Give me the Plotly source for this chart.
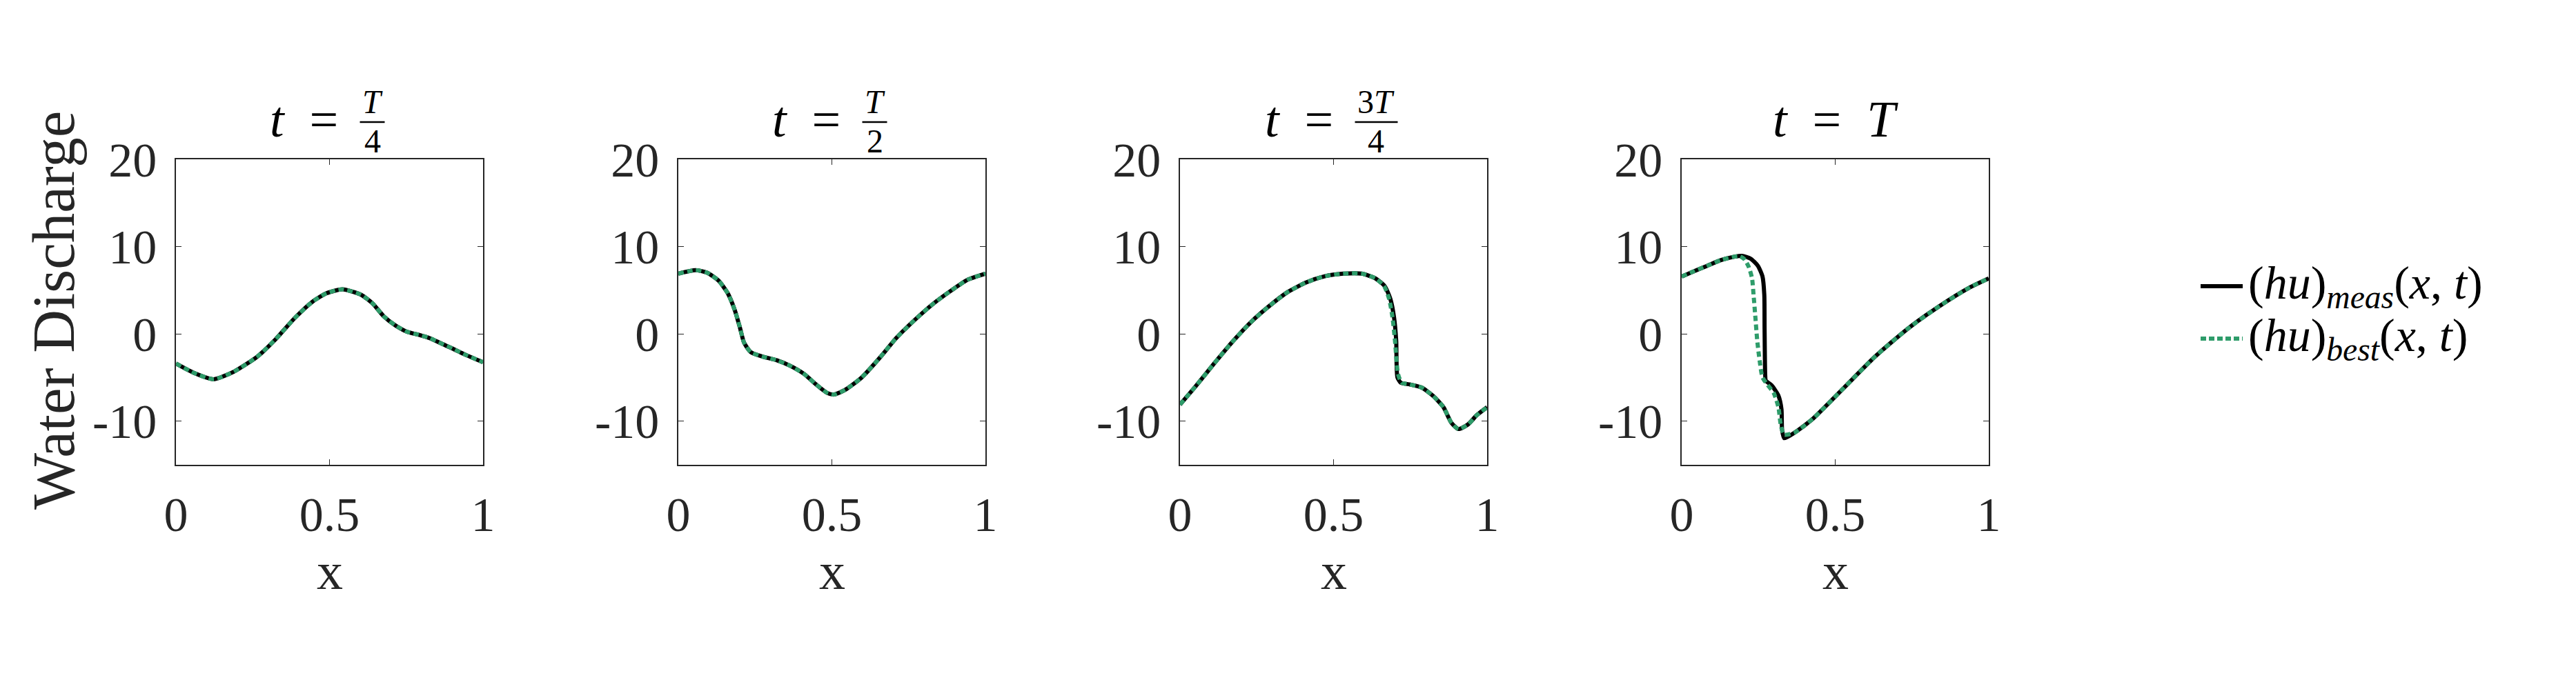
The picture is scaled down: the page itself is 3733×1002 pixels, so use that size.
import plotly.graph_objects as go

# values: water discharge (hu) at four times
x_q1 = [0, 0.06, 0.123, 0.19, 0.265, 0.325, 0.385, 0.445, 0.49, 0.542, 0.602, 0.64,
        0.677, 0.715, 0.752, 0.79, 0.827, 0.864, 0.902, 0.94, 1.0]
meas_q1 = [-3.4, -4.5, -5.2, -4.3, -2.6, -0.6, 1.75, 3.7, 4.65, 5.1, 4.5, 3.5,
           2.0, 0.96, 0.25, -0.1, -0.5, -1.1, -1.7, -2.35, -3.25]
best_q1 = [-3.4, -4.5, -5.2, -4.3, -2.6, -0.6, 1.75, 3.7, 4.65, 5.1, 4.5, 3.5,
           2.0, 0.96, 0.25, -0.1, -0.5, -1.1, -1.7, -2.35, -3.25]

x_q2 = [0, 0.056, 0.094, 0.131, 0.161, 0.184, 0.2, 0.214, 0.236, 0.274, 0.319, 0.364,
        0.41, 0.447, 0.484, 0.507, 0.544, 0.597, 0.657, 0.709, 0.77, 0.83, 0.89, 0.942, 1.0]
meas_q2 = [6.9, 7.3, 7.0, 6.1, 4.65, 2.7, 0.8, -1.0, -2.1, -2.6, -3.0, -3.65,
           -4.6, -5.75, -6.75, -6.95, -6.4, -5.0, -2.7, -0.5, 1.6, 3.45, 5.0, 6.2, 6.9]
best_q2 = [6.9, 7.3, 7.0, 6.1, 4.65, 2.7, 0.8, -1.0, -2.1, -2.6, -3.0, -3.65,
           -4.6, -5.75, -6.75, -6.95, -6.4, -5.0, -2.7, -0.5, 1.6, 3.45, 5.0, 6.2, 6.9]

x_q3 = [0, 0.051, 0.111, 0.171, 0.231, 0.291, 0.351, 0.411, 0.471, 0.532, 0.592, 0.637,
        0.667, 0.685, 0.697, 0.704, 0.708, 0.719, 0.749, 0.787, 0.824, 0.858, 0.884,
        0.907, 0.937, 0.967, 1.0]
meas_q3 = [-8.1, -6.0, -3.4, -0.9, 1.35, 3.2, 4.8, 5.9, 6.6, 6.9, 6.9, 6.35,
           5.45, 4.0, 1.9, -0.75, -4.97, -5.6, -5.8, -6.15, -7.1, -8.4, -10.2,
           -10.9, -10.4, -9.3, -8.4]
xb_q3 = [0, 0.051, 0.111, 0.171, 0.231, 0.291, 0.351, 0.411, 0.471, 0.532, 0.592, 0.637,
         0.665, 0.681, 0.692, 0.700, 0.710, 0.722, 0.749, 0.787, 0.824, 0.858, 0.884,
         0.907, 0.937, 0.967, 1.0]
best_q3 = [-8.1, -6.0, -3.4, -0.9, 1.35, 3.2, 4.8, 5.9, 6.6, 6.9, 6.9, 6.35,
           5.45, 4.0, 1.9, -0.75, -4.6, -5.6, -5.8, -6.15, -7.1, -8.4, -10.2,
           -10.9, -10.4, -9.3, -8.4]

x_q4 = [0, 0.038, 0.083, 0.128, 0.173, 0.196, 0.225, 0.248, 0.263, 0.269, 0.27, 0.272,
        0.274, 0.293, 0.315, 0.325, 0.327, 0.334, 0.368, 0.428, 0.525, 0.63, 0.735,
        0.84, 0.937, 1.0]
meas_q4 = [6.57, 7.15, 7.8, 8.45, 8.85, 8.94, 8.6, 7.8, 6.6, 4.5, 0.56, -4.7,
           -5.36, -5.9, -7.07, -8.65, -11.0, -11.95, -11.3, -9.7, -6.3, -2.6, 0.56,
           3.2, 5.3, 6.36]
xb_q4 = [0, 0.038, 0.083, 0.128, 0.173, 0.188, 0.203, 0.218, 0.229, 0.234, 0.24, 0.246,
         0.254, 0.263, 0.278, 0.3, 0.315, 0.323, 0.334, 0.368, 0.428, 0.525, 0.63,
         0.735, 0.84, 0.937, 1.0]
best_q4 = [6.57, 7.15, 7.8, 8.45, 8.85, 8.9, 8.6, 7.7, 6.4, 4.5, 1.9, -0.75,
           -3.1, -4.97, -5.76, -6.8, -8.4, -10.5, -11.55, -11.3, -9.7, -6.3, -2.6,
           0.56, 3.2, 5.3, 6.36]

panels = [
    (x_q1, meas_q1, x_q1, best_q1),
    (x_q2, meas_q2, x_q2, best_q2),
    (x_q3, meas_q3, xb_q3, best_q3),
    (x_q4, meas_q4, xb_q4, best_q4),
]

y_ticks = [-10, 0, 10, 20]
y_ticktext = ['-10', '0', '10', '20']
x_ticks = [0, 0.5, 1]
x_ticktext = ['0', '0.5', '1']
frac_num = ['<i>T</i>', '<i>T</i>', '3<i>T</i>', None]
frac_den = ['4', '2', '4', None]
legend_names = ['(<i>hu</i>)<sub><i>meas</i></sub>(<i>x</i>, <i>t</i>)',
                '(<i>hu</i>)<sub><i>best</i></sub>(<i>x</i>, <i>t</i>)']

W, H = 3733, 1002
FONT = 'Liberation Serif'
TXT = '#262626'
GREEN = '#2E9C6A'

# pixel positions of the axes boxes
left_px = [255, 983, 1710, 2437]
box_w = 445
top_px, bot_px = 231, 674


def px(v):
    return v / W


def py(v):
    return 1 - v / H


fig = go.Figure()
annotations = []
shapes = []

for i, (xm, ym, xb, yb) in enumerate(panels):
    n = '' if i == 0 else str(i + 1)
    fig.add_trace(go.Scatter(x=xm, y=ym, mode='lines', xaxis='x' + n, yaxis='y' + n,
                             line=dict(color='black', width=6, shape='spline', smoothing=0.6),
                             showlegend=False))
    fig.add_trace(go.Scatter(x=xb, y=yb, mode='lines', xaxis='x' + n, yaxis='y' + n,
                             line=dict(color=GREEN, width=6, dash='8px,5px',
                                       shape='spline', smoothing=0.6),
                             showlegend=False))

    ax = dict(domain=[px(left_px[i]), px(left_px[i] + box_w)], range=[0, 1],
              anchor='y' + n, showgrid=False, zeroline=False, showline=True,
              mirror='ticks', linecolor=TXT, linewidth=1.5, ticks='inside',
              ticklen=8, tickwidth=1.2, tickcolor=TXT, tickvals=x_ticks,
              ticktext=x_ticktext, ticklabelstandoff=10, automargin=False,
              tickfont=dict(family=FONT, size=70, color=TXT))
    ay = dict(domain=[py(bot_px), py(top_px)], range=[-15, 20], anchor='x' + n,
              showgrid=False, zeroline=False, showline=True, mirror='ticks',
              linecolor=TXT, linewidth=1.5, ticks='inside', ticklen=8,
              tickwidth=1.2, tickcolor=TXT, tickvals=y_ticks, ticktext=y_ticktext,
              ticklabelstandoff=12, automargin=False,
              tickfont=dict(family=FONT, size=70, color=TXT))
    fig.update_layout({'xaxis' + n: ax, 'yaxis' + n: ay})

    cx = left_px[i] + box_w / 2
    # x axis label
    annotations.append(dict(x=px(cx), y=py(828), xref='paper', yref='paper',
                            text='x', showarrow=False, xanchor='center', yanchor='middle',
                            font=dict(family=FONT, size=76, color=TXT)))
    # panel title
    if frac_num[i] is None:
        annotations.append(dict(x=px(cx), y=py(173), xref='paper', yref='paper',
                                text='<i>t</i>&nbsp; = &nbsp;<i>T</i>', showarrow=False,
                                xanchor='center', yanchor='middle',
                                font=dict(family=FONT, size=74, color='black')))
    else:
        wide = len(frac_num[i]) > 8
        fw = 62 if wide else 36
        fc = cx + 62
        annotations.append(dict(x=px(fc - fw / 2 - 30), y=py(173), xref='paper', yref='paper',
                                text='<i>t</i>&nbsp; =', showarrow=False,
                                xanchor='right', yanchor='middle',
                                font=dict(family=FONT, size=74, color='black')))
        annotations.append(dict(x=px(fc), y=py(147), xref='paper', yref='paper',
                                text=frac_num[i], showarrow=False,
                                xanchor='center', yanchor='middle',
                                font=dict(family=FONT, size=48, color='black')))
        annotations.append(dict(x=px(fc), y=py(204), xref='paper', yref='paper',
                                text=frac_den[i], showarrow=False,
                                xanchor='center', yanchor='middle',
                                font=dict(family=FONT, size=48, color='black')))
        shapes.append(dict(type='line', xref='paper', yref='paper',
                           x0=px(fc - fw / 2), x1=px(fc + fw / 2), y0=py(177), y1=py(177),
                           line=dict(color='black', width=2.5)))

# y axis label
annotations.append(dict(x=px(77), y=py(450), xref='paper', yref='paper',
                        text='Water Discharge', showarrow=False, textangle=-90,
                        xanchor='center', yanchor='middle',
                        font=dict(family=FONT, size=87, color=TXT)))

# legend
for k, (name, col, dash, yy) in enumerate([(legend_names[0], 'black', 'solid', 415),
                                           (legend_names[1], GREEN, '8px,4px', 491)]):
    shapes.append(dict(type='line', xref='paper', yref='paper',
                       x0=px(3189), x1=px(3250), y0=py(yy), y1=py(yy),
                       line=dict(color=col, width=6, dash=dash)))
    annotations.append(dict(x=px(3256), y=py(yy), xref='paper', yref='paper',
                            text=name, showarrow=False, xanchor='left', yanchor='middle',
                            font=dict(family=FONT, size=68, color='black')))

fig.update_layout(template='none', width=W, height=H, margin=dict(l=0, r=0, t=0, b=0),
                  paper_bgcolor='white', plot_bgcolor='white',
                  annotations=annotations, shapes=shapes, showlegend=False)

fig.write_html("out.html", config={'displayModeBar': False},
               post_script="document.body.style.margin='0';")
